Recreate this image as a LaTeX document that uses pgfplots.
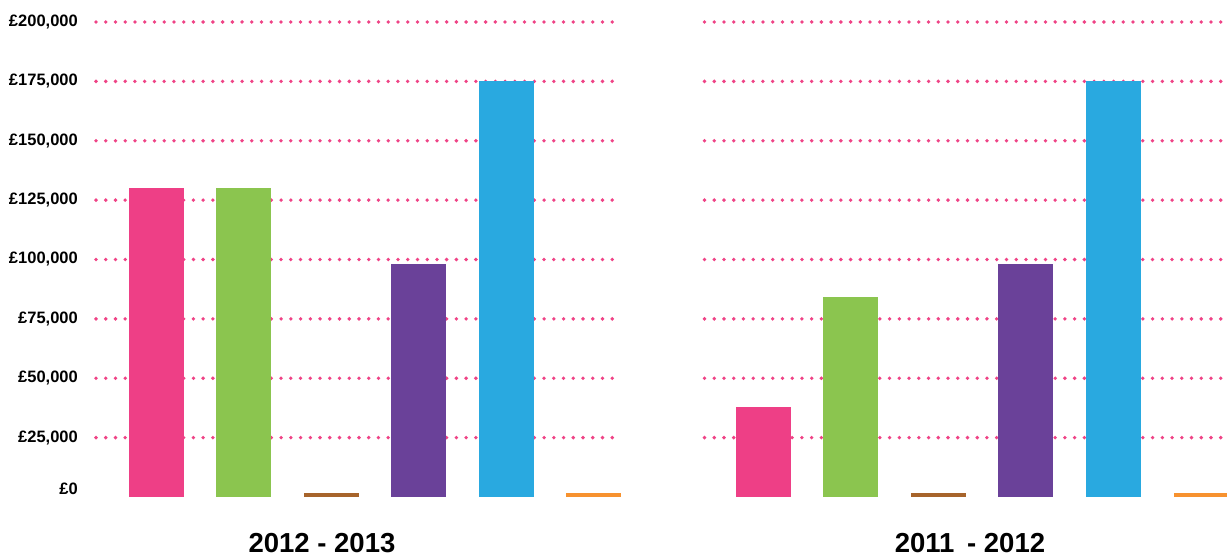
\documentclass[border=0pt]{standalone}
\usepackage{fontspec}
\setmainfont{Liberation Sans}
\usepackage{pgfplots}
\pgfplotsset{compat=1.18}
\definecolor{cpink}{HTML}{EE3F86}
\definecolor{cgreen}{HTML}{8BC54F}
\definecolor{cbrown}{HTML}{A7642B}
\definecolor{cpurple}{HTML}{6A4199}
\definecolor{cblue}{HTML}{29A9E0}
\definecolor{corange}{HTML}{F7922F}
\definecolor{gridpink}{HTML}{EF4386}
\pgfplotsset{
  panel/.style={
    scale only axis, anchor=south west,
    height=475pt,
    ymin=0, ymax=200000,
    ybar, bar width=0.63,
    clip=false,
    axis line style={draw=none},
    major tick length=0pt,
    xtick=\empty,
    ytick={25000,50000,75000,100000,125000,150000,175000,200000},
    ymajorgrids,
    every major grid/.style={draw=gridpink, line width=3.8pt, line cap=round, dash pattern=on 0pt off 9.74pt},
    scaled y ticks=false,
    yticklabel style={font=\fontsize{16.5}{18}\selectfont\bfseries, anchor=east, inner sep=0pt, xshift=-18pt},
  },
}
\begin{document}
\begin{tikzpicture}
\path[use as bounding box] (0,0) rectangle (1228pt,557pt);
% Left panel: 2012 - 2013
\begin{axis}[panel, at={(96pt,60pt)}, width=518pt, xmin=-0.693, xmax=5.234,
  yticklabels={{£25,000},{£50,000},{£75,000},{£100,000},{£125,000},{£150,000},{£175,000},{£200,000}},
  extra y ticks={0}, extra y tick labels={{£0}},
  extra y tick style={grid=none, yticklabel style={yshift=8pt}}]
\addplot[fill=cpink, draw=none, bar shift=0pt] coordinates {(0,130000)};
\addplot[fill=cgreen, draw=none, bar shift=0pt] coordinates {(1,130000)};
\addplot[fill=cbrown, draw=none, bar shift=0pt] coordinates {(2,1700)};
\addplot[fill=cpurple, draw=none, bar shift=0pt] coordinates {(3,98000)};
\addplot[fill=cblue, draw=none, bar shift=0pt] coordinates {(4,175000)};
\addplot[fill=corange, draw=none, bar shift=0pt] coordinates {(5,1700)};
\end{axis}
% Right panel: 2011 - 2012
\begin{axis}[panel, at={(704.5pt,60pt)}, width=522pt, xmin=-0.675, xmax=5.298,
  yticklabels={}]
\addplot[fill=cpink, draw=none, bar shift=0pt] coordinates {(0,38000)};
\addplot[fill=cgreen, draw=none, bar shift=0pt] coordinates {(1,84000)};
\addplot[fill=cbrown, draw=none, bar shift=0pt] coordinates {(2,1700)};
\addplot[fill=cpurple, draw=none, bar shift=0pt] coordinates {(3,98000)};
\addplot[fill=cblue, draw=none, bar shift=0pt] coordinates {(4,175000)};
\addplot[fill=corange, draw=none, bar shift=0pt, bar width=0.61] coordinates {(5,1700)};
\end{axis}
\node[anchor=base, inner sep=0pt, font=\fontsize{27.5}{30}\selectfont\bfseries] at (322pt,4.7pt) {2012 - 2013};
\node[anchor=base, inner sep=0pt, font=\fontsize{27.5}{30}\selectfont\bfseries] at (970pt,4.7pt) {2011\hspace{5pt} - 2012};
\end{tikzpicture}
\end{document}
